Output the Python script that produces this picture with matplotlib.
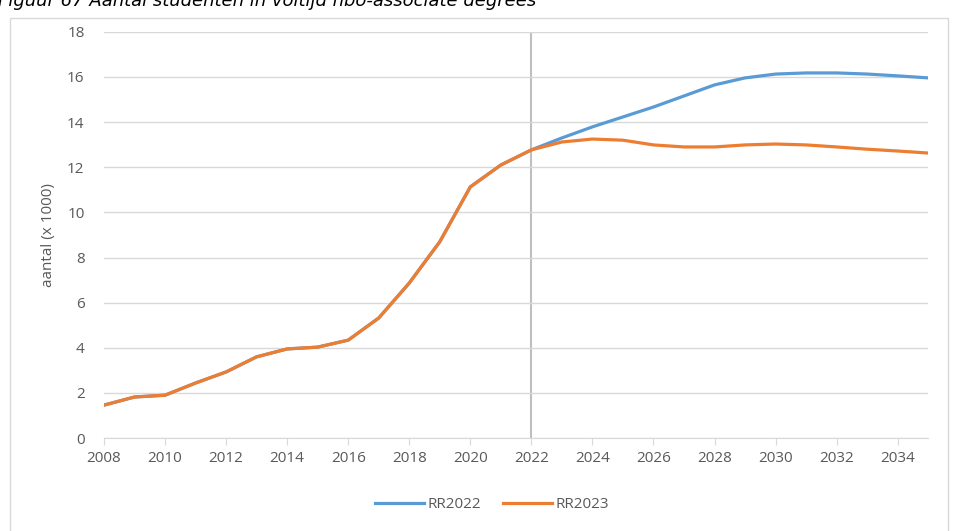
import matplotlib.pyplot as plt
from matplotlib.patches import Rectangle

# data (aantal x 1000)
years = list(range(2008, 2036))
history = [1.46, 1.82, 1.90, 2.44, 2.93, 3.60, 3.95, 4.03, 4.34, 5.32,
           6.87, 8.70, 11.13, 12.10, 12.77]
rr2022_future = [13.30, 13.79, 14.23, 14.67, 15.16, 15.65, 15.96, 16.13,
                 16.18, 16.18, 16.13, 16.05, 15.96]
rr2023_future = [13.12, 13.25, 13.20, 12.99, 12.90, 12.90, 12.99, 13.03,
                 12.99, 12.90, 12.80, 12.72, 12.63]
rr2022 = history + rr2022_future
rr2023 = history + rr2023_future
xticks = list(range(2008, 2036, 2))

plt.rcParams['font.family'] = ['Open Sans', 'DejaVu Sans']
grey = '#595959'

fig = plt.figure(figsize=(9.54, 5.31), dpi=100)
ax = fig.add_axes([0.109, 0.175, 0.864, 0.765])

# chart border
fig.add_artist(Rectangle((10/954, -0.01), 938/954, 1 - 18/531 + 0.01,
                         transform=fig.transFigure, fill=False,
                         edgecolor='#d9d9d9', linewidth=1))
# title is cut off at the top of the picture, like in the source
fig.text(-2/954, 1 - 6/531, 'Figuur 67 Aantal studenten in voltijd hbo-associate degrees',
         fontsize=13, style='italic', family='DejaVu Sans', va='baseline', ha='left',
         color='black')

ax.plot(years, rr2022, color='#5B9BD5', lw=2.3, label='RR2022')
ax.plot(years, rr2023, color='#ED7D31', lw=2.3, label='RR2023')
ax.axvline(2022, color='#bfbfbf', lw=1.5, zorder=0)

ax.set_xlim(2008, 2035)
ax.set_ylim(0, 18)
ax.set_yticks(range(0, 19, 2))
ax.set_xticks(xticks)
ax.grid(axis='y', color='#d9d9d9', lw=1)
ax.set_axisbelow(True)
for s in ['top', 'right', 'left']:
    ax.spines[s].set_visible(False)
ax.spines['bottom'].set_color('#d9d9d9')
ax.tick_params(axis='y', length=0, labelsize=11, labelcolor=grey, pad=14)
ax.tick_params(axis='x', length=5, color='#d9d9d9', labelsize=11, labelcolor=grey, pad=4)
ax.set_ylabel('aantal (x 1000)', fontsize=11, color=grey, labelpad=8)

fig.legend(loc='center', bbox_to_anchor=(492/954, 1 - 505/531), ncol=2, frameon=False,
           fontsize=11, labelcolor=grey, handlelength=3.2, columnspacing=1.4,
           handletextpad=0.25)

plt.savefig('out.png', dpi=100)
